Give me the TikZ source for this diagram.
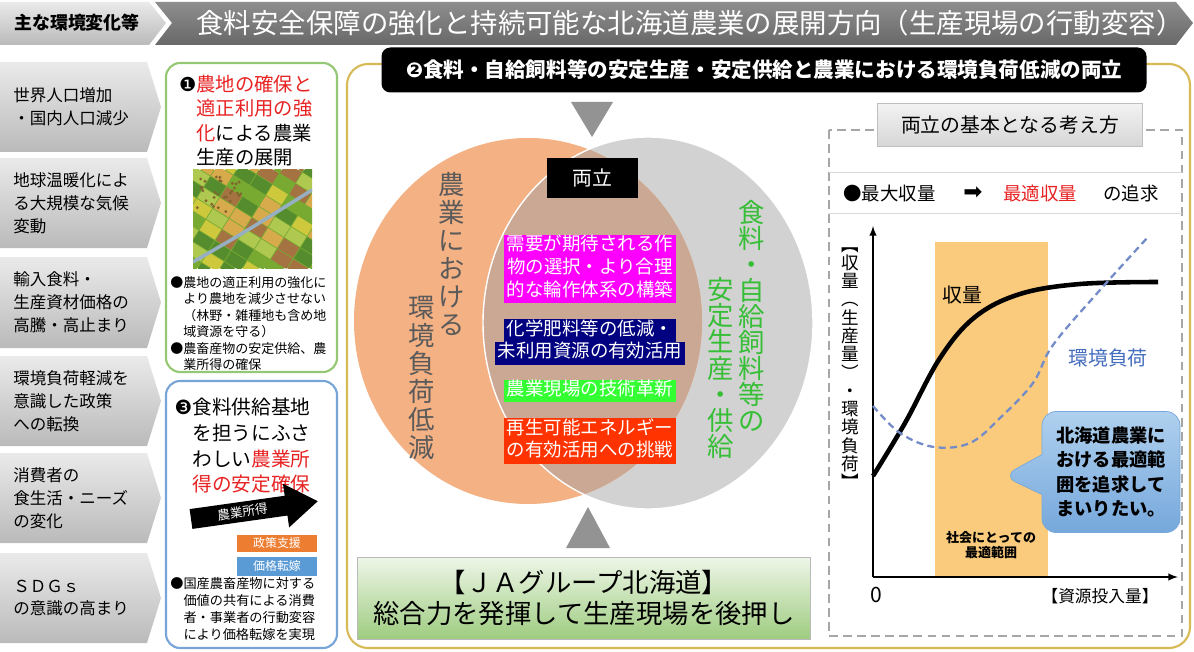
\documentclass[tikz,border=0pt]{standalone}
\usepackage{fontspec}
\setmainfont{Noto Sans CJK JP}
\newfontfamily\dejavusym{DejaVu Sans}
\usetikzlibrary{calc,positioning,shapes.callouts}
\tikzset{>=latex}

\definecolor{causetop}{RGB}{234,234,234}
\definecolor{causebot}{RGB}{186,186,186}
\definecolor{hdrtop}{RGB}{142,142,142}
\definecolor{hdrbot}{RGB}{104,104,104}
\definecolor{boxgreen}{RGB}{150,200,115}
\definecolor{boxblue}{RGB}{120,165,215}
\definecolor{panelgold}{RGB}{215,185,85}
\definecolor{alert}{RGB}{232,35,35}
\definecolor{vennorange}{RGB}{244,177,131}
\definecolor{venngray}{RGB}{210,210,210}
\definecolor{venntan}{RGB}{203,168,148}
\definecolor{venntext}{RGB}{90,90,90}
\definecolor{venngreen}{RGB}{55,190,55}
\definecolor{hlmagenta}{RGB}{255,0,255}
\definecolor{hlnavy}{RGB}{0,0,128}
\definecolor{hllime}{RGB}{51,255,51}
\definecolor{hlred}{RGB}{255,51,0}
\definecolor{jatop}{RGB}{238,246,232}
\definecolor{jabot}{RGB}{158,204,128}
\definecolor{bandorange}{RGB}{250,202,125}
\definecolor{envcurve}{RGB}{115,140,200}
\definecolor{envtext}{RGB}{70,110,190}
\definecolor{bubbletop}{RGB}{175,208,238}
\definecolor{bubblebot}{RGB}{118,168,220}
\definecolor{policyorange}{RGB}{237,125,49}
\definecolor{priceblue}{RGB}{91,155,213}
\definecolor{river}{RGB}{150,175,195}
\definecolor{field1}{RGB}{120,170,50}
\definecolor{field2}{RGB}{205,200,60}
\definecolor{field3}{RGB}{165,115,65}
\definecolor{field4}{RGB}{85,140,45}
\definecolor{field5}{RGB}{175,200,80}
\definecolor{field6}{RGB}{215,170,75}
\definecolor{treebrown}{RGB}{130,100,45}

\newcommand\fsz[2]{\fontsize{#1}{#2}\selectfont}
% one highlighted line of text
\newcommand\hlline[2]{{\setlength\fboxsep{0pt}\colorbox{#1}{\strut\,#2\,}}}

\begin{document}
\begin{tikzpicture}[x=0.2mm, y=-0.2mm,
    causebox/.style={top color=causetop, bottom color=causebot},
    causetext/.style={anchor=west, inner sep=0pt, align=left, font=\fsz{9.4}{13}},
    boxtitle/.style={anchor=north west, inner sep=0pt, align=left, font=\fsz{11}{13.8}},
    boxnote/.style={anchor=north west, inner sep=0pt, align=left, font=\fsz{7.4}{9.4}},
    vcolumn/.style={align=center, inner sep=0pt, font=\fsz{15}{16}},
    hlblock/.style={align=center, inner sep=0pt, text=white, font=\fsz{10.5}{13}},
  ]
  \useasboundingbox (0,0) rectangle (1194,652);
  \fill[white] (0,0) rectangle (1194,652);

  % Header: tab and title banner
  \shade[causebox] (0,2) -- (149,2) -- (166,23) -- (149,45) -- (0,45) -- cycle;
  \node[font=\bfseries\fsz{10.2}{12}] (hdrtab) at (77,23) {主な環境変化等};
  \shade[top color=hdrtop, bottom color=hdrbot] (155,2) -- (1176,2) -- (1193,23) -- (1176,45) -- (155,45) -- (172,23) -- cycle;
  \node[white, font=\fsz{15.6}{18}] (title) at (690,23) {食料安全保障の強化と持続可能な北海道農業の展開方向（生産現場の行動変容）};

  % Left column: main changes
  \foreach \yt/\yb/\txt [count=\i] in {62/152/{世界人口増加\\・国内人口減少}, 158/248/{地球温暖化によ\\る大規模な気候\\変動}, 257/348/{輸入食料・\\生産資材価格の\\高騰・高止まり}, 356/446/{環境負荷軽減を\\意識した政策\\への転換}, 453/543/{消費者の\\食生活・ニーズ\\の変化}, 553/643/{ＳＤＧｓ\\の意識の高まり}} {
    \shade[causebox] (0,\yt) -- (147,\yt) -- (161,{(\yt+\yb)/2}) -- (147,\yb) -- (0,\yb) -- cycle;
    \node[causetext] (cause\i) at (13,{(\yt+\yb)/2}) {\txt};
  }

  % Measure 1: farmland
  \draw[boxgreen, line width=1.2pt, rounded corners=8pt] (166,63) rectangle (337,372);
  \node[boxtitle] (measure1) at (196,75) {\llap{\dejavusym ❶}\textcolor{alert}{農地の確保と}\\\textcolor{alert}{適正利用の強}\\\textcolor{alert}{化}による農業\\生産の展開};

  % Aerial photo of fields
  \begin{scope}
    \clip (193,170) rectangle (312,268);
    \fill[field1] (193,170) rectangle (312,268);
    \pgfmathsetseed{4}
    \foreach \i in {-5,...,5} {
      \foreach \j in {-6,...,6} {
        \pgfmathrandominteger{\fc}{1}{6}
        \fill[field\fc, rotate around={-32:(252,218)}] ({252+\i*19},{218+\j*13}) rectangle +(18,12);
      }
    }
    \foreach \k in {1,...,30} {
      \fill[treebrown] ({197+rnd*45},{176+rnd*40}) circle (1.6);
    }
    \draw[river, line width=2pt] (193,262) .. controls (245,232) .. (312,190);
  \end{scope}

  \node[boxnote] (note1) at (170,276) {●農地の適正利用の強化に\\\hspace*{1em}より農地を減少させない\\\hspace*{1em}（林野・雑種地も含め地\\\hspace*{1em}域資源を守る）\\●農畜産物の安定供給、農\\\hspace*{1em}業所得の確保};

  % Measure 3: farm income
  \draw[boxblue, line width=1.2pt, rounded corners=8pt] (166,381) rectangle (337,648);
  \node[boxtitle, font=\fsz{11.2}{14.6}] (measure3) at (192,398) {\llap{\dejavusym ❸}食料供給基地\\を担うにふさ\\わしい\textcolor{alert}{農業所}\\\textcolor{alert}{得の安定確保}};

  \begin{scope}[shift={(191,519)}, rotate=8]
    \fill[black] (0,-10) -- (96,-10) -- (96,-22) -- (128,0) -- (96,22) -- (96,10) -- (0,10) -- cycle;
    \node[white, rotate=8, font=\fsz{7.2}{8}] (income) at (52,0) {農業所得};
  \end{scope}
  \node[fill=policyorange, text=white, minimum width=16mm, minimum height=3.4mm, inner sep=0pt, font=\fsz{6.8}{8}] (policy) at (277,543) {政策支援};
  \node[fill=priceblue, text=white, minimum width=16mm, minimum height=3.8mm, inner sep=0pt, font=\fsz{6.8}{8}] (pricing) at (277,566) {価格転嫁};
  \node[boxnote, font=\fsz{7.5}{9.6}] (note3) at (170,577) {●国産農畜産物に対する\\\hspace*{1em}価値の共有による消費\\\hspace*{1em}者・事業者の行動変容\\\hspace*{1em}により価格転嫁を実現};

  % Central panel
  \draw[panelgold, line width=1.2pt, rounded corners=12pt] (347,64) rectangle (1190,648);
  \node[fill=black, rounded corners=5pt, text=white, minimum width=153mm, minimum height=9mm, font=\bfseries\fsz{11.7}{13}] (goal) at (764,70) {{\dejavusym ❷}食料・自給飼料等の安定生産・安定供給と農業における環境負荷低減の両立};
  \fill[gray!85] (571,102) -- (613,102) -- (592,137) -- cycle;

  % Venn diagram
  \fill[venngray] (648,323) ellipse [x radius=165, y radius=186];
  \fill[vennorange] (528,321) ellipse [x radius=174, y radius=183];
  \begin{scope}
    \clip (648,323) ellipse [x radius=165, y radius=186];
    \fill[venntan] (528,321) ellipse [x radius=174, y radius=183];
  \end{scope}
  \draw[white, line width=0.8pt] (648,323) ellipse [x radius=165, y radius=186];

  \node[fill=black, text=white, minimum width=18.2mm, minimum height=8mm, font=\fsz{11.3}{13}] (balance) at (592,178) {両立};
  \node[vcolumn, text=venntext] (envcolA) at (452,254) {農\\業\\に\\お\\け\\る};
  \node[vcolumn, text=venntext] (envcolB) at (422,378) {環\\境\\負\\荷\\低\\減};
  \node[vcolumn, text=venngreen, font=\fsz{15}{14.8}] (foodcolA) at (752,316) {食\\料\\・\\自\\給\\飼\\料\\等\\の};
  \node[vcolumn, text=venngreen, font=\fsz{15}{14.8}] (foodcolB) at (721,368) {安\\定\\生\\産\\・\\供\\給};

  \node[hlblock] (crops) at (590,269) {\hlline{hlmagenta}{需要が期待される作}\\\hlline{hlmagenta}{物の選択・より合理}\\\hlline{hlmagenta}{的な輪作体系の構築}};
  \node[hlblock] (fertilizer) at (590,342) {\hlline{hlnavy}{化学肥料等の低減・}\\\hlline{hlnavy}{未利用資源の有効活用}};
  \node[hlblock] (innovation) at (590,391) {\hlline{hllime}{農業現場の技術革新}};
  \node[hlblock] (renewable) at (590,441) {\hlline{hlred}{再生可能エネルギー}\\\hlline{hlred}{の有効活用への挑戦}};

  \fill[gray!85] (566,548) -- (610,548) -- (588,507) -- cycle;
  \node[top color=jatop, bottom color=jabot, draw=gray!55, minimum width=90.6mm, minimum height=16.4mm, align=center, font=\fsz{15}{18}] (ja) at (584,598) {【ＪＡグループ北海道】\\総合力を発揮して生産現場を後押し};

  % Basic concept and chart
  \draw[gray!70, line width=0.9pt, dash pattern=on 5pt off 3pt] (829,130) rectangle (1182,636);
  \node[top color=gray!10, bottom color=gray!32, draw=gray!50, minimum width=53mm, minimum height=8.6mm, font=\fsz{11.3}{13}] (concept) at (1010,125) {両立の基本となる考え方};
  \draw[gray!30] (829,172) -- (1182,172) (829,213) -- (1182,213);
  \node[anchor=west, inner sep=0pt, font=\fsz{10.5}{12}] (maxyield) at (843,193) {●最大収量};
  \node[font=\fsz{13}{14}] (toarrow) at (973,193) {\dejavusym ➡};
  \node[anchor=west, inner sep=0pt, text=alert, font=\fsz{10.5}{12}] (optyield) at (1003,193) {最適収量};
  \node[anchor=west, inner sep=0pt, font=\fsz{10.5}{12}] (pursuit) at (1103,193) {の追求};

  \coordinate (origin) at (873,577);
  \coordinate (ytip) at (873,226);
  \coordinate (xtip) at (1178,577);
  \fill[bandorange] (935,242) rectangle (1048,577);
  \draw[->, line width=0.9pt] (origin) -- (ytip);
  \draw[->, line width=0.9pt] (origin) -- (xtip);
  \draw[line width=2.6pt] plot[smooth, tension=0.6] coordinates {(873,476) (905,423) (940,358) (975,317) (1020,294) (1080,284) (1158,282)};
  \draw[envcurve, line width=1.3pt, dash pattern=on 4pt off 2.5pt] plot[smooth, tension=0.6] coordinates {(873,406) (900,433) (934,447) (970,443) (1000,418) (1033,383) (1053,345) (1100,290) (1148,237)};

  \node[font=\fsz{11.3}{13}] (yieldlabel) at (962,295) {収量};
  \node[text=envtext, font=\fsz{11.3}{13}] (envlabel) at (1108,358) {環境負荷};
  \node[align=center, inner sep=0pt, font=\fsz{10}{10.4}] (yaxis) at (850,368) {︻\\収\\量\\︵\\生\\産\\量\\︶\\・\\環\\境\\負\\荷\\︼};
  \node[font=\fsz{12}{14}] (zero) at (876,595) {0};
  \node[font=\fsz{9.5}{12}] (xaxis) at (1100,596) {【資源投入量】};
  \node[align=center, font=\bfseries\fsz{7.4}{9}] (bandnote) at (991,545) {社会にとっての\\最適範囲};
  \node[rectangle callout, callout absolute pointer={(1003,476)}, callout pointer width=8mm, rounded corners=8pt, top color=bubbletop, bottom color=bubblebot, draw=bubblebot, minimum width=27.6mm, minimum height=24.2mm, align=left, font=\bfseries\fsz{10.4}{14}] (bubble) at (1111,472) {北海道農業に\\おける最適範\\囲を追求して\\まいりたい。};
\end{tikzpicture}
\end{document}
